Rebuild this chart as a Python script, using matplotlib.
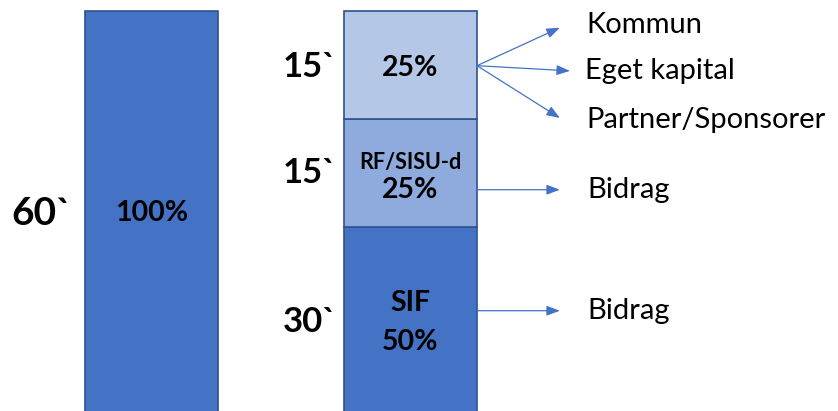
import matplotlib.pyplot as plt

plt.rcParams['font.family'] = ['Lato', 'DejaVu Sans']

# data
total_label = '60`'
total_share = [100]
segment_shares = [50, 25, 25]            # bottom -> top
segment_minutes = ['30`', '15`', '15`']
segment_texts = ['SIF\n50%', 'RF/SISU-d\n25%', '25%']
segment_colors = ['#4472C4', '#8FAADC', '#B4C7E7']
top_sources = ['Kommun', 'Eget kapital', 'Partner/Sponsorer']
bidrag_labels = ['Bidrag', 'Bidrag']

edge = '#2F528F'
arrow_col = '#4472C4'
bar_w = 0.514

fig = plt.figure(figsize=(8.38, 4.11), dpi=100)
ax = fig.add_axes([0, 0, 1, 1])
ax.set_xlim(-0.585, 2.651)
ax.set_ylim(7.4, 102.5)
ax.axis('off')

# left bar (whole)
ax.bar([0], total_share, width=bar_w, color='#4472C4', edgecolor=edge, linewidth=1.2)
ax.text(0, 53.2, f'{total_share[0]}%', ha='center', va='center',
        fontsize=20.5, fontweight='bold')
ax.text(-0.423, 53.2, total_label, ha='center', va='center',
        fontsize=28, fontweight='bold')

# right stacked bar
bottom = 0
mins_y = [28.0, 62.5, 87.0]
for share, col in zip(segment_shares, segment_colors):
    ax.bar([1], [share], bottom=bottom, width=bar_w, color=col,
           edgecolor=edge, linewidth=1.2)
    bottom += share

for y, m in zip(mins_y, segment_minutes):
    ax.text(1 - 0.39, y, m, ha='center', va='center', fontsize=25, fontweight='bold')

# segment texts
ax.text(1, 32.4, 'SIF', ha='center', va='center', fontsize=20.5, fontweight='bold')
ax.text(1, 23.4, '50%', ha='center', va='center', fontsize=20.5, fontweight='bold')
ax.text(1, 65.0, 'RF/SISU-d', ha='center', va='center', fontsize=15.5, fontweight='bold')
ax.text(1, 58.6, '25%', ha='center', va='center', fontsize=20.5, fontweight='bold')
ax.text(1, 86.8, segment_texts[2], ha='center', va='center', fontsize=20.5, fontweight='bold')

# arrows from top segment
x0 = 1 + bar_w / 2
y0 = 87.3
tips = [(1.577, 96.1), (1.616, 86.1), (1.577, 75.2)]
text_pos = [(1.681, 96.8), (1.674, 86.1), (1.681, 74.8)]
aprops = dict(arrowstyle='-|>,head_length=0.8,head_width=0.3', color=arrow_col,
              lw=0.9, shrinkA=0, shrinkB=0)
for (tx, ty), (lx, ly), lab in zip(tips, text_pos, top_sources):
    ax.annotate('', xy=(tx, ty), xytext=(x0, y0), arrowprops=aprops)
    ax.text(lx, ly, lab, ha='left', va='center', fontsize=21)

for y, lab in zip([58.6, 30.6], bidrag_labels):
    ax.annotate('', xy=(1.577, y), xytext=(x0, y), arrowprops=aprops)
    ax.text(1.685, y, lab, ha='left', va='center', fontsize=21)

fig.savefig('out.png', dpi=100)
